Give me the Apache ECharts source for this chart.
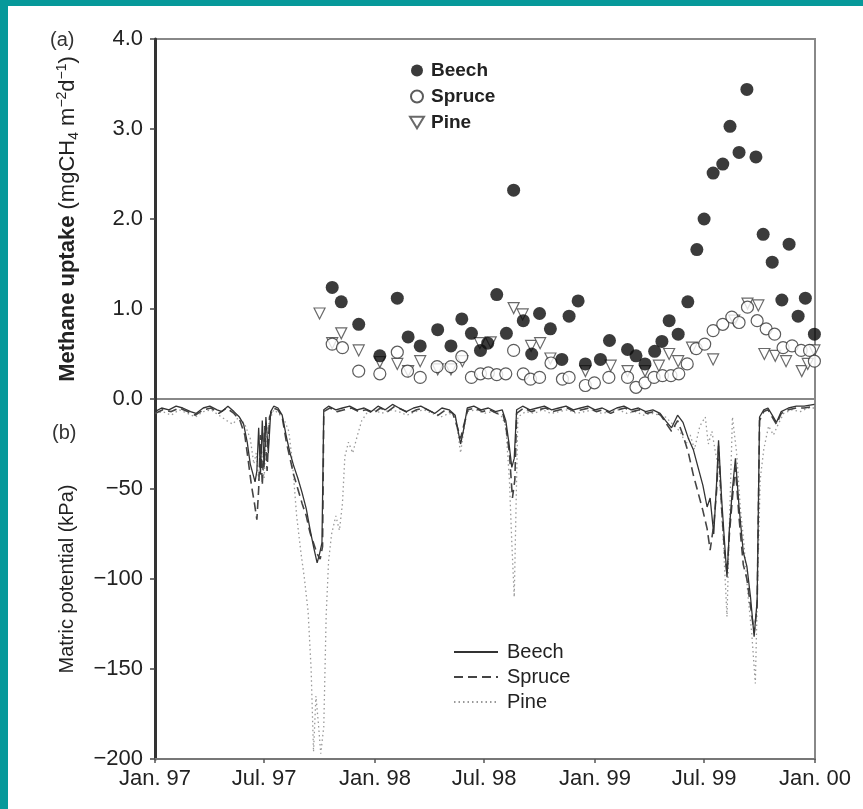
<!DOCTYPE html>
<html>
<head>
<meta charset="utf-8">
<script src="https://cdn.jsdelivr.net/npm/echarts@6.0.0/dist/echarts.min.js"></script>
<style>
  html, body { margin: 0; padding: 0; background: #fff; }
  #chart { width: 863px; height: 809px; }
  .edge { position: absolute; background: #06999a; z-index: 10; }
</style>
</head>
<body>
<div id="chart"></div>
<div class="edge" style="left:0;top:0;width:863px;height:6px"></div>
<div class="edge" style="left:0;top:0;width:8px;height:809px"></div>
<script>
// x axis ticks
const tickDates = ['1997-01-01', '1997-07-01', '1998-01-01', '1998-07-01', '1999-01-01', '1999-07-01', '2000-01-01']
const tickLabels = ['Jan. 97', 'Jul. 97', 'Jan. 98', 'Jul. 98', 'Jan. 99', 'Jul. 99', 'Jan. 00']
const uptakeTicks = [0, 1, 2, 3, 4]
const matricTicks = [-200, -150, -100, -50, 0]

// (a) methane uptake, mg CH4 m-2 d-1
const beechUptake = [
  ['1997-10-22', 1.24], ['1997-11-06', 1.08], ['1997-12-05', 0.83], ['1998-01-09', 0.48],
  ['1998-02-07', 1.12], ['1998-02-25', 0.69], ['1998-03-17', 0.59], ['1998-04-15', 0.77],
  ['1998-05-07', 0.59], ['1998-05-25', 0.89], ['1998-06-10', 0.73], ['1998-06-25', 0.54],
  ['1998-07-07', 0.62], ['1998-07-22', 1.16], ['1998-08-07', 0.73], ['1998-08-19', 2.32],
  ['1998-09-04', 0.87], ['1998-09-18', 0.50], ['1998-10-01', 0.95], ['1998-10-19', 0.78],
  ['1998-11-07', 0.44], ['1998-11-19', 0.92], ['1998-12-04', 1.09], ['1998-12-16', 0.39],
  ['1999-01-10', 0.44], ['1999-01-25', 0.65], ['1999-02-24', 0.55], ['1999-03-10', 0.48],
  ['1999-03-25', 0.39], ['1999-04-10', 0.53], ['1999-04-22', 0.64], ['1999-05-04', 0.87],
  ['1999-05-19', 0.72], ['1999-06-04', 1.08], ['1999-06-19', 1.66], ['1999-07-01', 2.00],
  ['1999-07-16', 2.51], ['1999-08-01', 2.61], ['1999-08-13', 3.03], ['1999-08-28', 2.74],
  ['1999-09-10', 3.44], ['1999-09-25', 2.69], ['1999-10-07', 1.83], ['1999-10-22', 1.52],
  ['1999-11-07', 1.10], ['1999-11-19', 1.72], ['1999-12-04', 0.92], ['1999-12-16', 1.12],
  ['1999-12-31', 0.72]
]
const spruceUptake = [
  ['1997-10-22', 0.61], ['1997-11-08', 0.57], ['1997-12-05', 0.31], ['1998-01-09', 0.28],
  ['1998-02-07', 0.52], ['1998-02-24', 0.31], ['1998-03-17', 0.24], ['1998-04-14', 0.36],
  ['1998-05-07', 0.36], ['1998-05-25', 0.47], ['1998-06-10', 0.24], ['1998-06-25', 0.28],
  ['1998-07-08', 0.29], ['1998-07-22', 0.27], ['1998-08-06', 0.28], ['1998-08-19', 0.54],
  ['1998-09-04', 0.28], ['1998-09-16', 0.22], ['1998-10-01', 0.24], ['1998-10-20', 0.40],
  ['1998-11-08', 0.22], ['1998-11-19', 0.24], ['1998-12-16', 0.15], ['1998-12-31', 0.18],
  ['1999-01-24', 0.24], ['1999-02-24', 0.24], ['1999-03-10', 0.13], ['1999-03-25', 0.18],
  ['1999-04-09', 0.24], ['1999-04-23', 0.26], ['1999-05-07', 0.26], ['1999-05-20', 0.28],
  ['1999-06-03', 0.39], ['1999-06-18', 0.56], ['1999-07-02', 0.61], ['1999-07-16', 0.76],
  ['1999-08-01', 0.83], ['1999-08-16', 0.91], ['1999-08-28', 0.85], ['1999-09-11', 1.02],
  ['1999-09-27', 0.87], ['1999-10-12', 0.78], ['1999-10-26', 0.72], ['1999-11-09', 0.57],
  ['1999-11-24', 0.59], ['1999-12-09', 0.54], ['1999-12-23', 0.54], ['1999-12-31', 0.42]
]
const pineUptake = [
  ['1997-10-01', 0.95], ['1997-10-22', 0.62], ['1997-11-06', 0.73], ['1997-12-05', 0.54],
  ['1998-01-09', 0.41], ['1998-02-07', 0.39], ['1998-02-25', 0.31], ['1998-03-17', 0.42],
  ['1998-04-15', 0.33], ['1998-05-07', 0.33], ['1998-05-26', 0.42], ['1998-06-24', 0.62],
  ['1998-07-12', 0.63], ['1998-08-19', 1.01], ['1998-09-03', 0.94], ['1998-09-17', 0.59],
  ['1998-10-02', 0.62], ['1998-10-19', 0.45], ['1998-12-16', 0.31], ['1999-01-27', 0.37],
  ['1999-02-24', 0.31], ['1999-03-25', 0.31], ['1999-04-17', 0.37], ['1999-05-04', 0.50],
  ['1999-05-19', 0.42], ['1999-06-11', 0.57], ['1999-07-16', 0.44], ['1999-08-20', 0.87],
  ['1999-09-11', 1.06], ['1999-09-29', 1.04], ['1999-10-09', 0.50], ['1999-10-27', 0.48],
  ['1999-11-14', 0.42], ['1999-12-10', 0.31], ['1999-12-20', 0.39], ['1999-12-31', 0.54]
]

// (b) matric potential, kPa
const beechMatric = [
  ['1997-01-01', -7], ['1997-01-12', -5], ['1997-01-24', -6], ['1997-02-05', -4], ['1997-02-16', -5],
  ['1997-03-01', -7], ['1997-03-10', -8], ['1997-03-22', -5], ['1997-04-02', -4], ['1997-04-14', -6],
  ['1997-04-22', -7], ['1997-05-02', -4], ['1997-05-12', -7], ['1997-05-21', -10], ['1997-05-28', -14],
  ['1997-06-03', -24], ['1997-06-08', -36], ['1997-06-12', -41], ['1997-06-16', -46], ['1997-06-19', -40],
  ['1997-06-22', -16], ['1997-06-25', -42], ['1997-06-28', -12], ['1997-07-01', -38], ['1997-07-04', -10],
  ['1997-07-08', -30], ['1997-07-12', -7], ['1997-07-17', -4], ['1997-07-24', -5], ['1997-07-31', -9],
  ['1997-08-07', -21], ['1997-08-13', -30], ['1997-08-19', -37], ['1997-08-26', -44], ['1997-09-02', -52],
  ['1997-09-09', -61], ['1997-09-15', -72], ['1997-09-21', -82], ['1997-09-27', -91], ['1997-10-01', -86],
  ['1997-10-05', -80], ['1997-10-08', -6], ['1997-10-16', -4], ['1997-10-28', -6], ['1997-11-08', -5],
  ['1997-11-20', -4], ['1997-12-02', -6], ['1997-12-14', -5], ['1997-12-26', -7], ['1998-01-06', -4],
  ['1998-01-18', -6], ['1998-01-30', -3], ['1998-02-10', -5], ['1998-02-22', -7], ['1998-03-06', -5],
  ['1998-03-18', -4], ['1998-03-30', -6], ['1998-04-10', -8], ['1998-04-22', -5], ['1998-05-04', -6],
  ['1998-05-14', -9], ['1998-05-19', -18], ['1998-05-23', -25], ['1998-05-28', -17], ['1998-06-03', -5],
  ['1998-06-14', -4], ['1998-06-26', -6], ['1998-07-08', -5], ['1998-07-20', -7], ['1998-07-31', -6],
  ['1998-08-06', -12], ['1998-08-11', -24], ['1998-08-16', -38], ['1998-08-20', -33], ['1998-08-24', -6],
  ['1998-09-03', -4], ['1998-09-15', -6], ['1998-09-27', -5], ['1998-10-09', -4], ['1998-10-21', -6],
  ['1998-11-02', -5], ['1998-11-14', -4], ['1998-11-26', -6], ['1998-12-08', -5], ['1998-12-20', -4],
  ['1999-01-01', -6], ['1999-01-13', -5], ['1999-01-25', -7], ['1999-02-06', -5], ['1999-02-18', -4],
  ['1999-03-02', -6], ['1999-03-14', -5], ['1999-03-26', -7], ['1999-04-07', -6], ['1999-04-19', -8],
  ['1999-04-28', -12], ['1999-05-08', -16], ['1999-05-18', -9], ['1999-05-27', -13], ['1999-06-05', -22],
  ['1999-06-13', -28], ['1999-06-21', -38], ['1999-06-29', -48], ['1999-07-06', -60], ['1999-07-11', -55],
  ['1999-07-17', -75], ['1999-07-22', -45], ['1999-07-25', -23], ['1999-07-30', -55], ['1999-08-04', -80],
  ['1999-08-08', -99], ['1999-08-12', -72], ['1999-08-17', -50], ['1999-08-22', -33], ['1999-08-28', -60],
  ['1999-09-04', -85], ['1999-09-10', -93], ['1999-09-16', -110], ['1999-09-22', -132], ['1999-09-27', -112],
  ['1999-10-01', -10], ['1999-10-08', -6], ['1999-10-15', -5], ['1999-10-22', -9], ['1999-10-29', -13],
  ['1999-11-06', -7], ['1999-11-18', -5], ['1999-12-01', -4], ['1999-12-14', -4], ['1999-12-31', -3]
]
const spruceMatric = [
  ['1997-01-01', -8], ['1997-01-14', -6], ['1997-01-28', -7], ['1997-02-10', -5], ['1997-02-24', -7],
  ['1997-03-09', -9], ['1997-03-22', -6], ['1997-04-04', -5], ['1997-04-17', -8], ['1997-04-30', -5],
  ['1997-05-12', -8], ['1997-05-22', -12], ['1997-05-30', -20], ['1997-06-05', -35], ['1997-06-10', -48],
  ['1997-06-15', -58], ['1997-06-19', -67], ['1997-06-22', -50], ['1997-06-25', -20], ['1997-06-28', -48],
  ['1997-07-02', -15], ['1997-07-06', -40], ['1997-07-10', -10], ['1997-07-16', -5], ['1997-07-24', -6],
  ['1997-07-31', -10], ['1997-08-07', -24], ['1997-08-13', -33], ['1997-08-19', -42], ['1997-08-26', -50],
  ['1997-09-02', -58], ['1997-09-09', -65], ['1997-09-15', -74], ['1997-09-21', -80], ['1997-09-27', -86],
  ['1997-10-02', -89], ['1997-10-06', -82], ['1997-10-08', -7], ['1997-10-18', -5], ['1997-10-30', -7],
  ['1997-11-11', -6], ['1997-11-23', -5], ['1997-12-05', -7], ['1997-12-17', -6], ['1997-12-29', -8],
  ['1998-01-10', -5], ['1998-01-22', -7], ['1998-02-03', -4], ['1998-02-15', -6], ['1998-02-27', -8],
  ['1998-03-11', -6], ['1998-03-23', -5], ['1998-04-04', -7], ['1998-04-16', -9], ['1998-04-28', -6],
  ['1998-05-10', -8], ['1998-05-18', -16], ['1998-05-23', -22], ['1998-05-28', -15], ['1998-06-04', -6],
  ['1998-06-16', -5], ['1998-06-28', -7], ['1998-07-10', -6], ['1998-07-22', -8], ['1998-08-01', -8],
  ['1998-08-06', -15], ['1998-08-12', -30], ['1998-08-17', -55], ['1998-08-21', -45], ['1998-08-24', -8],
  ['1998-09-05', -5], ['1998-09-17', -7], ['1998-09-29', -6], ['1998-10-11', -5], ['1998-10-23', -7],
  ['1998-11-04', -6], ['1998-11-16', -5], ['1998-11-28', -7], ['1998-12-10', -6], ['1998-12-22', -5],
  ['1999-01-03', -7], ['1999-01-15', -6], ['1999-01-27', -8], ['1999-02-08', -6], ['1999-02-20', -5],
  ['1999-03-04', -7], ['1999-03-16', -6], ['1999-03-28', -8], ['1999-04-09', -7], ['1999-04-20', -9],
  ['1999-04-28', -13], ['1999-05-08', -18], ['1999-05-18', -12], ['1999-05-27', -20], ['1999-06-05', -30],
  ['1999-06-13', -42], ['1999-06-21', -52], ['1999-06-29', -62], ['1999-07-06', -72], ['1999-07-11', -84],
  ['1999-07-17', -70], ['1999-07-22', -50], ['1999-07-25', -26], ['1999-07-30', -60], ['1999-08-04', -85],
  ['1999-08-08', -97], ['1999-08-12', -75], ['1999-08-17', -55], ['1999-08-22', -38], ['1999-08-28', -66],
  ['1999-09-04', -92], ['1999-09-10', -100], ['1999-09-16', -115], ['1999-09-22', -130], ['1999-09-27', -115],
  ['1999-10-01', -12], ['1999-10-08', -7], ['1999-10-15', -6], ['1999-10-22', -10], ['1999-10-29', -14],
  ['1999-11-06', -8], ['1999-11-18', -6], ['1999-12-01', -5], ['1999-12-14', -5], ['1999-12-31', -4]
]
const pineMatric = [
  ['1997-01-01', -8], ['1997-01-14', -7], ['1997-01-28', -9], ['1997-02-10', -6], ['1997-02-24', -8],
  ['1997-03-09', -10], ['1997-03-22', -7], ['1997-04-04', -6], ['1997-04-17', -9], ['1997-04-30', -12],
  ['1997-05-10', -14], ['1997-05-20', -10], ['1997-05-30', -14], ['1997-06-08', -22], ['1997-06-14', -36],
  ['1997-06-18', -30], ['1997-06-22', -45], ['1997-06-26', -25], ['1997-07-01', -44], ['1997-07-05', -20],
  ['1997-07-10', -12], ['1997-07-17', -6], ['1997-07-25', -8], ['1997-08-04', -12], ['1997-08-11', -18],
  ['1997-08-17', -35], ['1997-08-24', -65], ['1997-08-31', -85], ['1997-09-06', -100], ['1997-09-12', -118],
  ['1997-09-17', -150], ['1997-09-21', -196], ['1997-09-25', -165], ['1997-09-29', -180], ['1997-10-03', -197],
  ['1997-10-08', -182], ['1997-10-12', -120], ['1997-10-16', -90], ['1997-10-21', -75], ['1997-10-28', -65],
  ['1997-11-03', -73], ['1997-11-08', -58], ['1997-11-12', -32], ['1997-11-18', -24], ['1997-11-25', -30],
  ['1997-12-03', -20], ['1997-12-10', -12], ['1997-12-18', -8], ['1997-12-30', -6], ['1998-01-12', -8],
  ['1998-01-26', -6], ['1998-02-09', -7], ['1998-02-23', -9], ['1998-03-09', -7], ['1998-03-23', -6],
  ['1998-04-06', -8], ['1998-04-20', -10], ['1998-05-04', -8], ['1998-05-14', -10], ['1998-05-19', -20],
  ['1998-05-23', -30], ['1998-05-28', -18], ['1998-06-03', -7], ['1998-06-17', -6], ['1998-07-01', -8],
  ['1998-07-15', -7], ['1998-07-29', -9], ['1998-08-06', -15], ['1998-08-12', -45], ['1998-08-16', -80],
  ['1998-08-20', -110], ['1998-08-23', -60], ['1998-08-26', -10], ['1998-09-08', -7], ['1998-09-22', -8],
  ['1998-10-06', -6], ['1998-10-20', -8], ['1998-11-03', -7], ['1998-11-17', -6], ['1998-12-01', -8],
  ['1998-12-15', -7], ['1998-12-29', -6], ['1999-01-12', -8], ['1999-01-26', -7], ['1999-02-09', -6],
  ['1999-02-23', -8], ['1999-03-09', -7], ['1999-03-23', -9], ['1999-04-06', -8], ['1999-04-18', -9],
  ['1999-04-28', -10], ['1999-05-10', -14], ['1999-05-22', -18], ['1999-06-01', -25], ['1999-06-08', -20],
  ['1999-06-15', -28], ['1999-06-24', -15], ['1999-07-03', -10], ['1999-07-08', -25], ['1999-07-14', -18],
  ['1999-07-20', -30], ['1999-07-26', -40], ['1999-08-02', -80], ['1999-08-08', -121], ['1999-08-12', -70],
  ['1999-08-17', -10], ['1999-08-24', -30], ['1999-08-30', -60], ['1999-09-05', -80], ['1999-09-12', -110],
  ['1999-09-18', -130], ['1999-09-24', -158], ['1999-09-28', -100], ['1999-10-02', -45], ['1999-10-08', -28],
  ['1999-10-16', -15], ['1999-10-24', -20], ['1999-11-01', -14], ['1999-11-10', -8], ['1999-11-24', -6],
  ['1999-12-08', -7], ['1999-12-20', -5], ['1999-12-31', -5]
]

const font = "'Liberation Sans', Arial, Helvetica, sans-serif"
const toTs = s => new Date(s + 'T00:00:00').getTime()
const pts = arr => arr.map(d => [toTs(d[0]), d[1]])
const tickValues = tickDates.map(toTs)
const xMin = tickValues[0]
const xMax = tickValues[tickValues.length - 1]

const chart = echarts.init(document.getElementById('chart'), null, { renderer: 'canvas' })

const labelStyle = { color: '#222', fontSize: 22, fontFamily: font }
const downTriangle = 'path://M0,0 L12,0 L6,10 Z'

const option = {
  animation: false,
  backgroundColor: '#fff',
  textStyle: { fontFamily: font },
  grid: [
    { left: 155, top: 39, width: 660, height: 360, show: true, borderColor: '#888', borderWidth: 2 },
    { left: 155, top: 399, width: 660, height: 360, show: true, borderColor: '#888', borderWidth: 2 }
  ],
  xAxis: [
    {
      type: 'value', gridIndex: 0, min: xMin, max: xMax, show: false
    },
    {
      type: 'value', gridIndex: 1, min: xMin, max: xMax, position: 'bottom',
      axisLine: { show: true, onZero: false, lineStyle: { color: '#777', width: 2 } },
      axisTick: { show: true, inside: false, length: 4, customValues: tickValues, lineStyle: { color: '#555', width: 1.5 } },
      axisLabel: {
        ...labelStyle, margin: 9, customValues: tickValues,
        formatter: v => {
          let best = 0
          tickValues.forEach((t, i) => { if (Math.abs(t - v) < Math.abs(tickValues[best] - v)) best = i })
          return tickLabels[best]
        }
      },
      splitLine: { show: false }
    }
  ],
  yAxis: [
    {
      type: 'value', gridIndex: 0, min: 0, max: 4,
      axisLine: { show: true, onZero: false, lineStyle: { color: '#333', width: 3 } },
      axisTick: { show: true, length: 5, customValues: uptakeTicks, lineStyle: { color: '#444', width: 1.5 } },
      axisLabel: { ...labelStyle, margin: 12, customValues: uptakeTicks, formatter: v => v.toFixed(1) },
      splitLine: { show: false },
      name: '{b|Methane uptake} (mgCH{sub|4} m{sup|\u22122}d{sup|\u22121})',
      nameLocation: 'middle',
      nameGap: 74,
      nameTextStyle: {
        color: '#222', fontSize: 22, fontFamily: font, lineHeight: 26,
        rich: {
          b: { fontSize: 22, fontWeight: 'bold', color: '#222', fontFamily: font, lineHeight: 26 },
          sub: { fontSize: 14, color: '#222', fontFamily: font, lineHeight: 16, verticalAlign: 'bottom' },
          sup: { fontSize: 14, color: '#222', fontFamily: font, lineHeight: 16, verticalAlign: 'top' }
        }
      }
    },
    {
      type: 'value', gridIndex: 1, min: -200, max: 0,
      axisLine: { show: true, onZero: false, lineStyle: { color: '#333', width: 3 } },
      axisTick: { show: true, length: 5, customValues: matricTicks, lineStyle: { color: '#444', width: 1.5 } },
      axisLabel: {
        ...labelStyle, margin: 12, customValues: matricTicks.slice(0, 4),
        formatter: v => String(v).replace('-', '\u2212')
      },
      splitLine: { show: false },
      name: 'Matric potential (kPa)',
      nameLocation: 'middle',
      nameGap: 78,
      nameTextStyle: { color: '#222', fontSize: 20, fontFamily: font }
    }
  ],
  legend: [
    {
      data: ['Beech', 'Spruce', { name: 'Pine', icon: downTriangle }],
      orient: 'vertical', left: 404, top: 56, itemGap: 7, itemWidth: 14, itemHeight: 12,
      textStyle: { color: '#222', fontSize: 19, fontWeight: 'bold', fontFamily: font, padding: [0, 0, 0, 2] },
      selectedMode: false
    },
    {
      data: ['Beech ', 'Spruce ', 'Pine '],
      orient: 'vertical', left: 448, top: 637, itemGap: 5, itemWidth: 44, itemHeight: 12,
      itemStyle: { opacity: 0 },
      textStyle: { color: '#222', fontSize: 20, fontFamily: font, padding: [0, 0, 0, 4] },
      formatter: n => n.trim(),
      selectedMode: false
    }
  ],
  graphic: [
    { type: 'text', left: 50, top: 30, style: { text: '(a)', fill: '#333', font: '20px ' + font } },
    { type: 'text', left: 52, top: 423, style: { text: '(b)', fill: '#333', font: '20px ' + font } }
  ],
  series: [
    {
      name: 'Pine', type: 'scatter', xAxisIndex: 0, yAxisIndex: 0, clip: false,
      symbol: 'triangle', symbolRotate: 180, symbolSize: 11,
      itemStyle: { color: '#fff', borderColor: '#444', borderWidth: 1.2 },
      data: pts(pineUptake), z: 2
    },
    {
      name: 'Spruce', type: 'scatter', xAxisIndex: 0, yAxisIndex: 0, clip: false,
      symbol: 'circle', symbolSize: 12,
      itemStyle: { color: '#fff', borderColor: '#333', borderWidth: 1.2 },
      data: pts(spruceUptake), z: 3
    },
    {
      name: 'Beech', type: 'scatter', xAxisIndex: 0, yAxisIndex: 0, clip: false,
      symbol: 'circle', symbolSize: 13,
      itemStyle: { color: '#0a0a0a', borderWidth: 0 },
      data: pts(beechUptake), z: 4
    },
    {
      name: 'Pine ', type: 'line', xAxisIndex: 1, yAxisIndex: 1, symbol: 'none',
      itemStyle: { color: '#999' },
      lineStyle: { color: '#999', width: 1.3, type: [1.5, 3] },
      data: pts(pineMatric), z: 2
    },
    {
      name: 'Spruce ', type: 'line', xAxisIndex: 1, yAxisIndex: 1, symbol: 'none',
      itemStyle: { color: '#444' },
      lineStyle: { color: '#444', width: 1.6, type: [9, 5] },
      data: pts(spruceMatric), z: 3
    },
    {
      name: 'Beech ', type: 'line', xAxisIndex: 1, yAxisIndex: 1, symbol: 'none',
      itemStyle: { color: '#333' },
      lineStyle: { color: '#333', width: 1.3 },
      data: pts(beechMatric), z: 4
    }
  ]
}

chart.setOption(option)
</script>
</body>
</html>
